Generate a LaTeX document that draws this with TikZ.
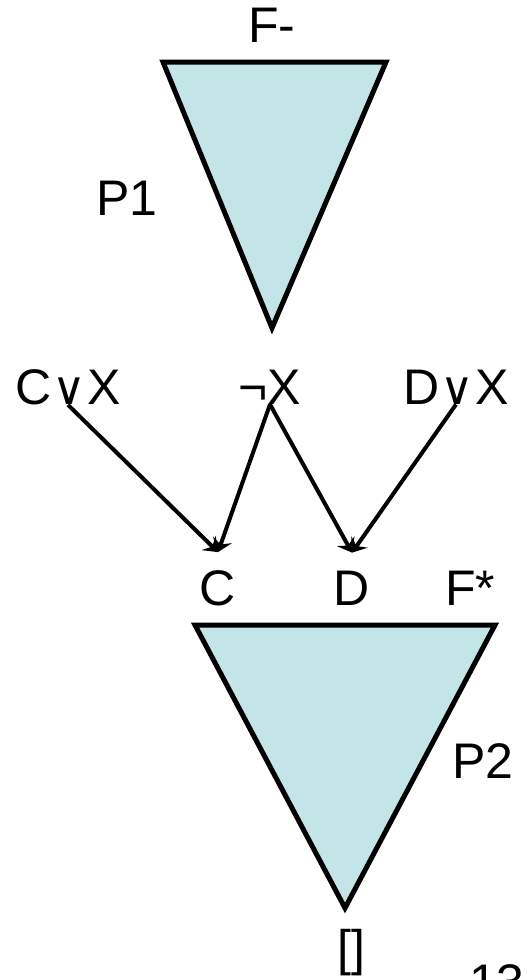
\documentclass[tikz,border=0pt]{standalone}
\usepackage{fontspec}
\setmainfont{Liberation Sans}
\newfontfamily\orfont{DejaVu Sans}
\usetikzlibrary{arrows.meta}
\definecolor{wedge}{RGB}{196,229,232}
\newcommand{\orsym}{\kern1pt{\orfont\fontsize{46}{54}\selectfont ∨}\kern1pt}
\begin{document}
\begin{tikzpicture}[x=1pt,y=-1pt,>={Stealth[length=13pt,width=20pt,inset=5pt]},
  every node/.style={inner sep=0pt,font=\fontsize{50}{60}\selectfont}]
  \useasboundingbox (0,0) rectangle (527,980);
  \clip (0,0) rectangle (527,980);
  \draw[line width=5pt,fill=wedge,line join=miter] (163,62) -- (386,62) -- (272,328) -- cycle;
  \draw[line width=5pt,fill=wedge,line join=miter] (195,625) -- (495,625) -- (345,908) -- cycle;

  \node (fm) at (272,25) {F-};
  \node (p1) at (127,198) {P1};
  \node (cx) at (68,387) {C\orsym X};
  \node (nx) at (270,387) {¬X};
  \node (dx) at (456,387) {D\orsym X};
  \node (c) at (218,588) {C};
  \node (d) at (352,588) {D};
  \node (fs) at (470,588) {F*};
  \node (p2) at (483,761) {P2};
  \node (em) at (351,953) {[]};
  \node (pg) at (497,982) {13};

  \draw[->,line width=4pt] (cx.south) -- ([yshift=18pt]c.north);
  \draw[->,line width=4pt] (nx.south) -- ([yshift=18pt]c.north);
  \draw[->,line width=4pt] (nx.south) -- ([yshift=18pt]d.north);
  \draw[->,line width=4pt] (dx.south) -- ([yshift=18pt]d.north);
\end{tikzpicture}
\end{document}
